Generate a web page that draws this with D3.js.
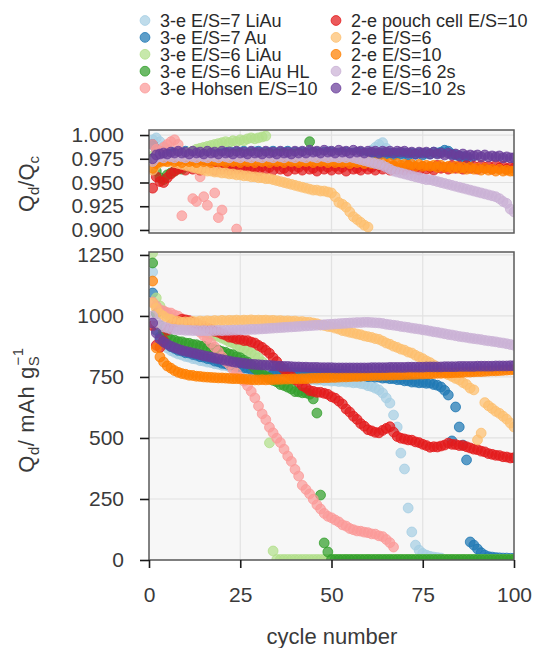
<!DOCTYPE html>
<html>
<head>
<meta charset="utf-8">
<script src="https://cdn.jsdelivr.net/npm/d3@7"></script>
<style>
  body { margin: 0; background: #fff; }
  svg { font-family: "Liberation Sans", Arial, Helvetica, sans-serif; }
</style>
</head>
<body>
<div id="chart"></div>
<script>
// ---- data (index 0 = cycle 1) ----
var seriesNames = ["3-e E/S=7 LiAu", "3-e E/S=7 Au", "3-e E/S=6 LiAu", "3-e E/S=6 LiAu HL", "3-e Hohsen E/S=10",
                   "2-e pouch cell E/S=10", "2-e E/S=6", "2-e E/S=10", "2-e E/S=6 2s", "2-e E/S=10 2s"];
var seriesColors = ["#a6cee3", "#1f78b4", "#b2df8a", "#33a02c", "#fb9a99",
                    "#e31a1c", "#fdbf6f", "#ff7f00", "#cab2d6", "#6a3d9a"];

var xTicks = [0, 25, 50, 75, 100];
var effTicks = [0.900, 0.925, 0.950, 0.975, 1.000];
var capTicks = [0, 250, 500, 750, 1000, 1250];

// discharge capacity, mAh/g
var capLightBlue = [1180, 962, 901, 880, 869, 858, 851, 844, 840, 834,
  831, 825, 823, 817, 815, 811, 809, 804, 802, 798,
  797, 792, 790, 786, 784, 779, 777, 771, 769, 765,
  764, 760, 759, 755, 755, 751, 750, 747, 747, 744,
  744, 741, 742, 739, 740, 737, 738, 735, 736, 733,
  734, 731, 732, 729, 729, 726, 727, 723, 721, 714,
  711, 704, 697, 684, 664, 643, 594, 545, 438, 373,
  213, 115, 61, 40, 27, 20, 15, 12, 10, 8];
var capBlue = [1094, 941, 914, 897, 886, 874, 867, 859, 856, 849,
  848, 842, 839, 833, 831, 825, 823, 815, 812, 806,
  804, 799, 798, 793, 792, 787, 786, 781, 781, 777,
  777, 774, 775, 772, 773, 770, 771, 768, 769, 767,
  768, 766, 767, 765, 767, 764, 766, 764, 765, 763,
  764, 761, 762, 759, 759, 756, 757, 754, 755, 751,
  752, 749, 749, 745, 746, 743, 743, 739, 739, 734,
  734, 729, 729, 726, 727, 724, 725, 719, 716, 709,
  695, 676, 488, 627, 545, 471, 410, 74, 61, 45,
  30, 20, 14, 12, 10, 9, 8, 8, 7, 7];
var capLightGreen = [1258, 1074, 1041, 1019, 1006, 994, 986, 974, 968, 959,
  956, 949, 946, 939, 936, 929, 926, 919, 916, 909,
  903, 894, 889, 879, 873, 864, 859, 849, 841, 829,
  812, 792, 480, 37, 2, 2, 2, 2, 2, 2,
  2, 2, 2, 2, 2, 2, 2, 2, 2, 2,
  2, 2, 2, 2, 2, 2, 2, 2, 2, 2,
  2, 2, 2, 2, 2, 2, 2, 2, 2, 2,
  2, 2, 2, 2, 2, 2, 2, 2, 2, 2,
  2, 2, 2, 2, 2, 2, 2, 2, 2, 2,
  2, 2, 2, 2, 2, 2, 2, 2, 2, 2];
var capGreen = [1217, 1010, 961, 934, 916, 904, 901, 895, 894, 889,
  888, 883, 882, 877, 876, 870, 868, 862, 860, 854,
  851, 844, 841, 833, 829, 819, 811, 799, 786, 770,
  763, 752, 746, 736, 730, 719, 715, 708, 701, 690,
  689, 685, 685, 679, 660, 602, 266, 70, 33, 2,
  2, 2, 2, 2, 2, 2, 2, 2, 2, 2,
  2, 2, 2, 2, 2, 2, 2, 2, 2, 2,
  2, 2, 2, 2, 2, 2, 2, 2, 2, 2,
  2, 2, 2, 2, 2, 2, 2, 2, 2, 2,
  2, 2, 2, 2, 2, 2, 2, 2, 2, 2];
var capPink = [1057, 1041, 1025, 1021, 1014, 1012, 1004, 999, 989, 981,
  969, 959, 944, 933, 919, 906, 889, 873, 854, 833,
  814, 801, 781, 766, 749, 733, 714, 691, 664, 631,
  599, 575, 544, 521, 499, 481, 454, 426, 404, 371,
  344, 306, 289, 271, 249, 226, 209, 191, 179, 173,
  164, 156, 144, 139, 129, 124, 119, 118, 114, 112,
  107, 106, 99, 96, 84, 71, 53];
var capRed = [960, 880, 871, 899, 941, 964, 976, 979, 986, 984,
  981, 974, 969, 961, 959, 951, 946, 937, 933, 926,
  921, 913, 911, 905, 904, 899, 899, 893, 889, 879,
  871, 859, 847, 829, 813, 794, 781, 765, 753, 739,
  729, 714, 706, 694, 691, 687, 687, 683, 679, 669,
  663, 651, 639, 619, 606, 589, 576, 559, 548, 534,
  529, 523, 521, 531, 539, 546, 524, 506, 499, 496,
  492, 491, 484, 481, 474, 469, 462, 464, 463, 467,
  471, 479, 474, 473, 469, 469, 464, 459, 454, 452,
  446, 443, 436, 433, 429, 428, 423, 422, 418, 419];
var capLightOrange = [1053, 1031, 1009, 999, 989, 986, 979, 978, 974, 976,
  975, 978, 976, 979, 977, 980, 978, 981, 979, 982,
  980, 982, 981, 983, 981, 983, 982, 984, 982, 983,
  982, 983, 981, 982, 980, 981, 979, 980, 978, 979,
  976, 977, 974, 974, 971, 968, 963, 961, 957, 955,
  950, 946, 940, 937, 933, 930, 926, 923, 918, 915,
  912, 907, 904, 897, 889, 884, 876, 871, 864, 860,
  852, 848, 839, 832, 825, 816, 809, 799, 791, 779,
  771, 759, 752, 744, 738, 727, 719, 704, 697, 492,
  520, 645, 632, 621, 609, 601, 589, 577, 561, 545];
var capOrange = [1143, 869, 832, 811, 795, 786, 776, 769, 764, 761,
  757, 756, 753, 752, 750, 749, 748, 747, 746, 746,
  745, 744, 743, 743, 742, 741, 740, 739, 738, 738,
  739, 738, 739, 739, 740, 740, 741, 741, 742, 742,
  742, 743, 743, 744, 745, 745, 746, 747, 747, 748,
  748, 749, 750, 750, 751, 752, 752, 753, 754, 755,
  755, 756, 756, 757, 757, 758, 758, 759, 759, 760,
  760, 761, 761, 762, 762, 763, 763, 764, 765, 765,
  766, 766, 767, 768, 768, 769, 770, 770, 771, 772,
  772, 773, 774, 775, 775, 776, 777, 778, 779, 780];
var capLightPurple = [1000, 976, 963, 955, 951, 946, 945, 943, 943, 941,
  941, 940, 940, 939, 940, 939, 940, 940, 941, 940,
  941, 941, 942, 942, 943, 943, 944, 945, 945, 946,
  947, 948, 949, 950, 951, 952, 953, 954, 955, 956,
  957, 958, 959, 960, 961, 962, 963, 964, 965, 966,
  967, 968, 969, 970, 971, 972, 973, 973, 974, 974,
  973, 972, 971, 969, 966, 964, 962, 960, 957, 955,
  953, 950, 948, 946, 943, 941, 938, 935, 933, 930,
  927, 924, 922, 919, 916, 914, 912, 909, 907, 905,
  903, 900, 898, 896, 894, 891, 889, 886, 883, 880];
var capPurple = [971, 930, 905, 893, 884, 876, 870, 864, 859, 855,
  852, 848, 845, 841, 837, 834, 831, 827, 824, 821,
  818, 815, 812, 810, 808, 806, 804, 802, 801, 800,
  799, 798, 797, 796, 795, 794, 793, 793, 792, 791,
  791, 790, 790, 789, 789, 789, 788, 788, 788, 788,
  787, 787, 787, 787, 787, 787, 787, 787, 787, 787,
  788, 788, 788, 788, 788, 789, 789, 789, 789, 789,
  790, 790, 790, 790, 790, 791, 791, 791, 791, 791,
  792, 792, 792, 792, 793, 793, 793, 793, 793, 794,
  794, 794, 794, 794, 795, 795, 795, 795, 796, 796];

// coulombic efficiency Qd/Qc (null = no point)
var effLightBlue = [.995, .997, .993, .988, .985, .983, .981, .979, .982, .979,
  .981, .978, .982, .979, .981, .980, .983, .979, .981, .978,
  .982, .980, .981, .978, .982, .979, .981, .980, .983, .979,
  .981, .978, .982, .979, .981, .980, .982, .979, .981, .978,
  .982, .980, .981, .979, .982, .979, .981, .980, .983, .979,
  .981, .978, .982, .979, .981, .980, .982, .979, .981, .982,
  .984, .987, .990, .992, .986, .979, .981, .978, .980, .977,
  .979, .976];
var effBlue = [.990, .985, .983, .982, .981, .982, .980, .982, .981, .983,
  .980, .982, .981, .983, .980, .982, .981, .983, .980, .982,
  .981, .983, .980, .982, .981, .983, .980, .982, .981, .983,
  .980, .982, .981, .983, .980, .982, .981, .983, .980, .982,
  .981, .982, .980, .982, .981, .982, .980, .982, .981, .982,
  .980, .981, .980, .982, .979, .981, .980, .982, .979, .981,
  .980, .981, .979, .981, .980, .981, .979, .981, .980, .981,
  .979, .981, .980, .981, .979, .981, .980, .982, .981, .982,
  .984, .983, .980, .979, .978, .977, .976, .975];
var effLightGreen = [.978, .974, .972, .973, .975, .976, .977, .978, .979, .980,
  .982, .983, .985, .986, .987, .988, .989, .990, .991, .992,
  .993, .992, .994, .993, .995, .994, .996, .997, .996, .997,
  .998, .999];
var effGreen = [.975, .962, .955, .953, .958, .960, .962, .965, .964, .968,
  .967, .971, .970, .973, .972, .975, .974, .977, .976, .978,
  .976, .979, .977, .980, .978, .979, .977, .980, .978, .979,
  .977, .980, .978, .979, .977, .980, .978, .979, .977, .980,
  .978, .979, .978, .993, .979, .975];
var effPink = [.990, .985, .983, .987, .990, .993, .995, .990, .915, null,
  null, .933, .930, .956, .935, .926, null, .939, .913, .921,
  null, null, null, .901];
var effRed = [.944, .956, .951, .950, .955, .959, .962, .964, .966, .963,
  .967, .964, .968, .963, .966, .965, .968, .963, .967, .964,
  .966, .963, .968, .964, .966, .963, .967, .964, .965, .962,
  .967, .964, .966, .963, .968, .964, .965, .962, .967, .964,
  .966, .963, .968, .964, .965, .962, .967, .964, .966, .963,
  .967, .964, .966, .962, .968, .964, .965, .963, .967, .964,
  .966, .963, .968, .964, .966, .963, .967, .964, .965, .963,
  .968, .964, .966, .963, .967, .964, .966, .963, .968, .965,
  .966, .964, .968, .965, .967, .964, .968, .965, .967, .964,
  .968, .965, .967, .964, .968, .965, .967, .964, .966, .965];
var effLightOrange = [.963, .968, .971, .972, .973, .972, .971, .970, .969, .968,
  .967, .966, .965, .964, .963, .962, .962, .961, .961, .960,
  .960, .959, .959, .958, .958, .957, .957, .956, .956, .955,
  .955, .954, .954, .953, .952, .951, .950, .949, .948, .947,
  .946, .945, .944, .943, .942, .942, .941, .941, .940, .939,
  .935, .929, .927, .924, .919, .914, .911, .908, .905, .903];
var effOrange = [.965, .970, .972, .973, .972, .974, .972, .973, .971, .974,
  .972, .973, .971, .974, .972, .973, .971, .974, .972, .973,
  .971, .974, .972, .973, .971, .974, .972, .973, .971, .974,
  .972, .973, .971, .974, .972, .973, .971, .974, .972, .973,
  .971, .973, .972, .973, .971, .973, .972, .973, .971, .973,
  .971, .972, .971, .973, .970, .972, .971, .972, .970, .972,
  .970, .971, .969, .971, .969, .970, .968, .970, .968, .969,
  .968, .969, .967, .969, .967, .968, .967, .968, .966, .968,
  .966, .967, .965, .967, .965, .966, .964, .966, .964, .965,
  .963, .965, .963, .964, .962, .964, .962, .963, .962, .962];
var effLightPurple = [.972, .976, .977, .976, .978, .977, .976, .978, .977, .976,
  .978, .977, .976, .978, .977, .976, .978, .977, .976, .978,
  .977, .976, .978, .977, .976, .978, .977, .976, .978, .977,
  .976, .978, .977, .976, .978, .977, .976, .978, .977, .976,
  .978, .977, .976, .978, .977, .976, .978, .977, .976, .977,
  .977, .976, .977, .976, .977, .976, .975, .974, .973, .972,
  .971, .970, .969, .968, .966, .964, .962, .961, .960, .959,
  .958, .957, .956, .955, .954, .953, .953, .952, .951, .950,
  .949, .948, .947, .946, .945, .944, .943, .942, .941, .940,
  .939, .938, .937, .936, .935, .933, .930, .928, .922, .919];
var effPurple = [.975, .979, .980, .981, .980, .982, .981, .983, .981, .982,
  .980, .983, .981, .982, .980, .983, .981, .982, .980, .983,
  .981, .982, .980, .983, .981, .982, .980, .983, .981, .982,
  .980, .983, .981, .982, .980, .983, .981, .982, .980, .983,
  .981, .983, .981, .984, .982, .983, .981, .984, .982, .983,
  .981, .984, .982, .983, .981, .984, .982, .983, .981, .983,
  .982, .983, .981, .983, .982, .983, .981, .983, .982, .983,
  .981, .982, .980, .982, .981, .982, .980, .982, .980, .981,
  .979, .981, .979, .980, .978, .980, .978, .979, .978, .979,
  .977, .979, .977, .978, .977, .978, .976, .977, .976, .976];

var capacityData = [capLightBlue, capBlue, capLightGreen, capGreen, capPink,
                    capRed, capLightOrange, capOrange, capLightPurple, capPurple];
var efficiencyData = [effLightBlue, effBlue, effLightGreen, effGreen, effPink,
                      effRed, effLightOrange, effOrange, effLightPurple, effPurple];

// ---- chart ----
var W = 535, H = 648;
var svg = d3.select("#chart").append("svg")
    .attr("width", W)
    .attr("height", H);

var x = d3.scaleLinear().domain([0, 100]).range([149, 514]);
var yTop = d3.scaleLinear().domain([0.8968, 1.0053]).range([233, 130]);
var yBot = d3.scaleLinear().domain([0, 1262]).range([560, 252]);

function toPoints(arr) {
    return arr.map(function(v, i) { return {c: i + 1, v: v}; })
              .filter(function(d) { return d.v !== null; });
}

function drawPanel(id, y, yTicks, yFormat, data, showX) {
    var x0 = x.range()[0], x1 = x.range()[1];
    var top = y.range()[1], bottom = y.range()[0];
    var g = svg.append("g");

    g.append("rect")
        .attr("x", x0).attr("y", top)
        .attr("width", x1 - x0).attr("height", bottom - top)
        .attr("fill", "#f7f7f7");

    // grid
    g.selectAll(".vgrid").data(xTicks.slice(1, -1)).enter().append("line")
        .attr("x1", function(d) { return x(d); }).attr("x2", function(d) { return x(d); })
        .attr("y1", top).attr("y2", bottom)
        .attr("stroke", "#e2e2e2").attr("stroke-width", 1.2);
    g.selectAll(".hgrid").data(yTicks).enter().append("line")
        .attr("x1", x0).attr("x2", x1)
        .attr("y1", function(d) { return y(d); }).attr("y2", function(d) { return y(d); })
        .attr("stroke", "#e2e2e2").attr("stroke-width", 1.2);

    svg.append("clipPath").attr("id", id)
        .append("rect")
        .attr("x", x0).attr("y", top)
        .attr("width", x1 - x0).attr("height", bottom - top);

    var marks = g.append("g").attr("clip-path", "url(#" + id + ")");
    data.forEach(function(arr, k) {
        marks.append("g").selectAll("circle")
            .data(toPoints(arr))
            .enter()
            .append("circle")
            .attr("cx", function(d) { return x(d.c); })
            .attr("cy", function(d) { return y(d.v); })
            .attr("r", 4.9)
            .attr("fill", seriesColors[k])
            .attr("fill-opacity", 0.72)
            .attr("stroke", seriesColors[k])
            .attr("stroke-opacity", 0.8)
            .attr("stroke-width", 1);
    });

    // frame
    g.append("rect")
        .attr("x", x0).attr("y", top)
        .attr("width", x1 - x0).attr("height", bottom - top)
        .attr("fill", "none")
        .attr("stroke", "#5a5a5a")
        .attr("stroke-width", 1.5);

    var yAxis = d3.axisLeft(y).tickValues(yTicks).tickFormat(yFormat)
        .tickSize(9).tickPadding(16);
    var ya = g.append("g").attr("transform", "translate(" + x0 + ",0)").call(yAxis);
    styleAxis(ya);

    if (showX) {
        var xAxis = d3.axisBottom(x).tickValues(xTicks).tickFormat(d3.format("d"))
            .tickSize(8).tickPadding(19);
        var xa = g.append("g").attr("transform", "translate(0," + bottom + ")").call(xAxis);
        styleAxis(xa);
    }
}

function styleAxis(sel) {
    sel.select(".domain").remove();
    sel.selectAll(".tick line").attr("stroke", "#1a1a1a").attr("stroke-width", 1.6);
    sel.selectAll(".tick text")
        .attr("fill", "#3a3a3a")
        .style("font-size", "21px")
        .style("font-family", "'Liberation Sans', Arial, sans-serif");
}

drawPanel("clipTop", yTop, effTicks, d3.format(".3f"), efficiencyData, false);
drawPanel("clipBot", yBot, capTicks, d3.format("d"), capacityData, true);

// axis titles
var t1 = svg.append("text")
    .attr("transform", "translate(34,184) rotate(-90)")
    .attr("text-anchor", "middle")
    .attr("fill", "#3a3a3a")
    .style("font-size", "22px");
t1.append("tspan").text("Q");
t1.append("tspan").attr("dy", 5).style("font-size", "15px").text("d");
t1.append("tspan").attr("dy", -5).text("/Q");
t1.append("tspan").attr("dy", 5).style("font-size", "15px").text("c");

var t2 = svg.append("text")
    .attr("transform", "translate(34,410) rotate(-90)")
    .attr("text-anchor", "middle")
    .attr("fill", "#3a3a3a")
    .style("font-size", "22px")
    .style("letter-spacing", "0.6px");
t2.append("tspan").text("Q");
t2.append("tspan").attr("dy", 5).style("font-size", "15px").text("d");
t2.append("tspan").attr("dy", -5).text("/ mAh g");
t2.append("tspan").attr("dy", 5).style("font-size", "15px").text("S");
t2.append("tspan").attr("dx", -10).attr("dy", -16).style("font-size", "15px").text("\u22121");

svg.append("text")
    .attr("x", 332).attr("y", 644)
    .attr("text-anchor", "middle")
    .attr("fill", "#3a3a3a")
    .style("font-size", "22px")
    .text("cycle number");

// legend
var legend = svg.append("g");
seriesNames.forEach(function(name, i) {
    var col = i < 5 ? 0 : 1;
    var row = i % 5;
    var cx = col === 0 ? 145 : 336;
    var base = 27 + row * 16.9;
    legend.append("circle")
        .attr("cx", cx).attr("cy", base - 6.5).attr("r", 4.9)
        .attr("fill", seriesColors[i]).attr("fill-opacity", 0.72)
        .attr("stroke", seriesColors[i]).attr("stroke-opacity", 0.8);
    legend.append("text")
        .attr("x", cx + 15).attr("y", base)
        .attr("fill", "#2a2a2a")
        .style("font-size", "18px")
        .text(name);
});
</script>
</body>
</html>
